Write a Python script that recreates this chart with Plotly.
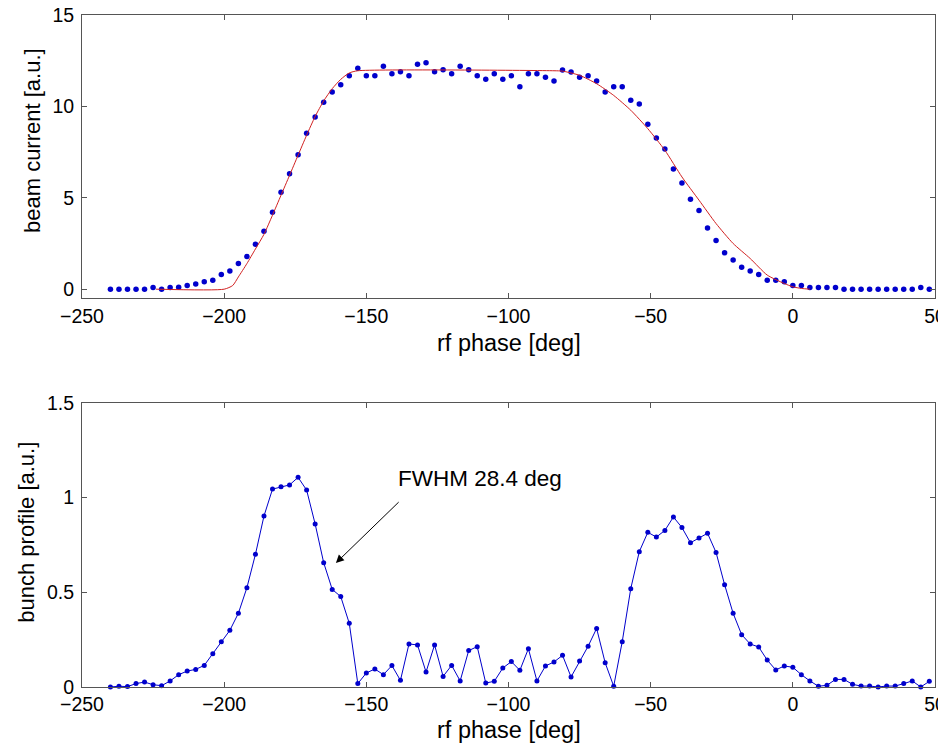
import plotly.graph_objects as go
from plotly.subplots import make_subplots

# rf phase grid of the measurement (deg)
phase = list(range(-240, 49, 3))

# measured beam current [a.u.]
beam_current = [
    0, 0, 0, 0, 0, 0.09, 0, 0.09, 0.11, 0.2,
    0.29, 0.4, 0.49, 0.8, 1.0, 1.4, 1.79, 2.46, 3.17, 4.21,
    5.3, 6.31, 7.36, 8.53, 9.42, 10.22, 10.79, 11.19, 11.68, 12.08,
    11.68, 11.68, 12.19, 11.79, 11.9, 11.68, 12.3, 12.39, 11.9, 12.0,
    11.79, 12.19, 12.0, 11.68, 11.48, 11.79, 11.48, 11.68, 11.08, 11.79,
    11.79, 11.59, 11.39, 11.99, 11.88, 11.59, 11.68, 11.39, 10.79, 11.08,
    11.08, 10.33, 10.13, 9.02, 8.27, 7.67, 6.58, 5.81, 4.92, 4.30,
    3.35, 2.66, 1.99, 1.60, 1.20, 1.00, 0.80, 0.49, 0.49, 0.40,
    0.20, 0.20, 0.09, 0.09, 0.09, 0.09, 0, 0, 0, 0,
    0, 0, 0, 0, 0, 0.09, 0,
]

# fitted beam current curve
fit_phase = [-224, -200, -197, -195, -192, -189, -186, -183, -180, -177,
             -174, -171, -168, -165, -162, -159, -156, -153, -84, -81,
             -75, -69, -63, -57, -51, -45, -39, -33, -27, -21,
             -15, -9, -3, 0, 3, 6]
fit_current = [0, 0, 0.2, 0.67, 1.4, 2.2, 3.0, 4.05, 5.14, 6.23,
               7.33, 8.42, 9.45, 10.3, 10.97, 11.48, 11.83, 11.95, 11.95, 11.93,
               11.7, 11.24, 10.6, 9.79, 8.78, 7.6, 6.14, 4.87, 3.59, 2.5,
               1.68, 0.77, 0.31, 0.13, 0.04, 0]

# reconstructed bunch profile [a.u.]
bunch_profile = [
    0, 0.004, 0.002, 0.018, 0.026, 0.012, 0.007, 0.032, 0.065, 0.084,
    0.093, 0.114, 0.176, 0.239, 0.299, 0.389, 0.524, 0.700, 0.902, 1.044,
    1.057, 1.066, 1.106, 1.039, 0.860, 0.656, 0.515, 0.477, 0.336, 0.018,
    0.074, 0.095, 0.065, 0.113, 0.035, 0.227, 0.222, 0.079, 0.222, 0.056,
    0.114, 0.032, 0.192, 0.213, 0.021, 0.030, 0.100, 0.134, 0.088, 0.202,
    0.032, 0.111, 0.132, 0.167, 0.053, 0.137, 0.215, 0.309, 0.128, 0.004,
    0.239, 0.519, 0.714, 0.816, 0.791, 0.826, 0.897, 0.841, 0.761, 0.786,
    0.811, 0.710, 0.540, 0.389, 0.276, 0.227, 0.211, 0.142, 0.090, 0.111,
    0.104, 0.065, 0.032, 0.004, 0.009, 0.040, 0.040, 0.014, 0.005, 0.005,
    0, 0.005, 0.005, 0.018, 0.032, 0, 0.030,
]

FONT = "Arial, Liberation Sans, sans-serif"
BLUE = "#0000cc"

fig = make_subplots(rows=2, cols=1)

fig.add_trace(go.Scatter(x=phase, y=beam_current, mode="markers",
                         marker=dict(color=BLUE, size=5.5),
                         cliponaxis=False), row=1, col=1)
fig.add_trace(go.Scatter(x=fit_phase, y=fit_current, mode="lines",
                         line=dict(color="#d02020", width=1, shape="spline", smoothing=0.6)),
              row=1, col=1)
fig.add_trace(go.Scatter(x=phase, y=bunch_profile, mode="lines+markers",
                         line=dict(color=BLUE, width=1),
                         marker=dict(color=BLUE, size=5),
                         cliponaxis=False), row=2, col=1)

axis_style = dict(showline=True, mirror="ticks", linecolor="#555555", linewidth=1,
                  ticks="inside", ticklen=5, tickcolor="#555555",
                  showgrid=False, zeroline=False, automargin=False,
                  ticklabeloverflow="allow",
                  tickfont=dict(family=FONT, size=19.5, color="black"))

fig.update_xaxes(axis_style, range=[-250, 50], dtick=50, ticklabelstandoff=0)
fig.update_yaxes(axis_style, ticklabelstandoff=3)
fig.update_yaxes(range=[-0.5, 15], tickvals=[0, 5, 10, 15], row=1, col=1)
fig.update_yaxes(range=[0, 1.5], dtick=0.5, row=2, col=1)

fig.update_layout(
    xaxis=dict(domain=[0, 1]),
    yaxis=dict(domain=[0.5784, 1.0]),
    yaxis2=dict(domain=[0, 0.4231]),
)

# axis titles placed like the original figure
titles = [
    dict(text="rf phase [deg]", x=0.5, y=0.5119, textangle=0, size=23.5),
    dict(text="rf phase [deg]", x=0.5, y=-0.064, textangle=0, size=23.5),
    dict(text="beam current [a.u.]", x=-0.0586, y=0.8125, textangle=-90, size=22),
    dict(text="bunch profile [a.u.]", x=-0.0645, y=0.2311, textangle=-90, size=22),
]
for t in titles:
    fig.add_annotation(x=t["x"], y=t["y"], xref="paper", yref="paper", text=t["text"],
                       textangle=t["textangle"], showarrow=False,
                       xanchor="center", yanchor="middle",
                       font=dict(family=FONT, size=t["size"], color="black"))

# arrow pointing to the first peak
fig.add_annotation(x=-160.7, y=0.654, ax=-138.1, ay=0.983, xref="x2", yref="y2",
                   axref="x2", ayref="y2", text="", showarrow=True,
                   arrowhead=2, arrowsize=1.6, arrowwidth=1, arrowcolor="black")
fig.add_annotation(x=-139.6, y=1.1, xref="x2", yref="y2", text="FWHM 28.4 deg",
                   showarrow=False, xanchor="left", yanchor="middle",
                   font=dict(family=FONT, size=22.5, color="black"))

# the page adds an 8px body margin, so size and margins are shifted to compensate
fig.update_layout(
    width=938, height=737,
    margin=dict(l=74, r=11, t=7, b=58),
    plot_bgcolor="white", paper_bgcolor="white",
    showlegend=False,
    font=dict(family=FONT, color="black"),
)

fig.write_html("out.html")
